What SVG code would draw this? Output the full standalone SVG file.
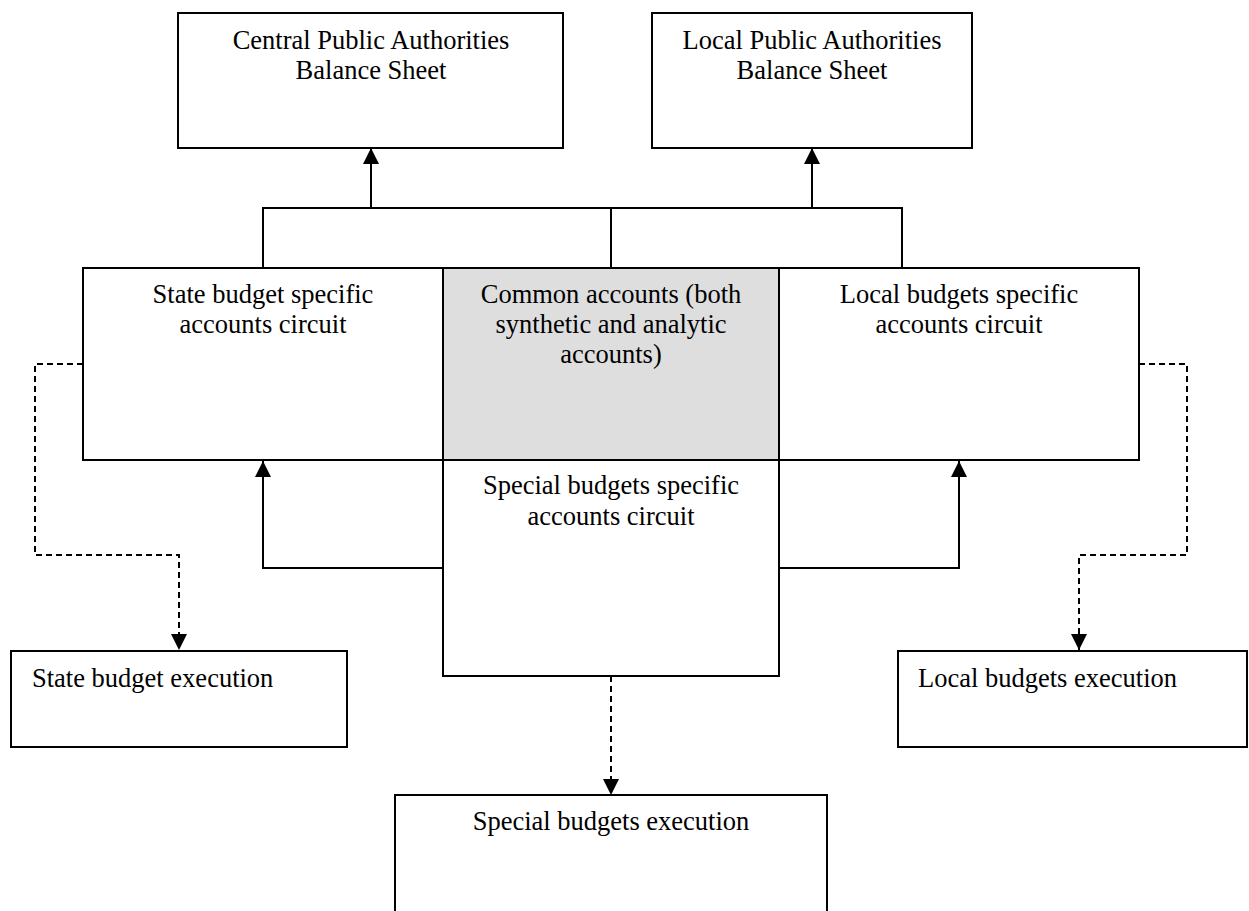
<svg xmlns="http://www.w3.org/2000/svg" width="1249" height="911" viewBox="0 0 1249 911">
<style>
.box{fill:#fff;stroke:#000;stroke-width:2}
.grey{fill:#dedede;stroke:#000;stroke-width:2}
.t{font-family:"Liberation Serif","Times New Roman",serif;font-size:26.5px;fill:#000}
.c{text-anchor:middle}
.ln{fill:none;stroke:#000;stroke-width:2}
.dash{fill:none;stroke:#000;stroke-width:2;stroke-dasharray:6,4}
</style>
<defs>
<marker id="ah" viewBox="0 0 16 16" refX="16" refY="8" markerWidth="16" markerHeight="16" markerUnits="userSpaceOnUse" orient="auto">
<path d="M0,0 L16,8 L0,16 z" fill="#000"/>
</marker>
</defs>
<rect width="1249" height="911" fill="#fff"/>
<g id="connectors">
<polyline class="ln" points="263,268 263,208 611,208 611,268"/>
<line class="ln" x1="371" y1="208" x2="371" y2="148" marker-end="url(#ah)"/>
<polyline class="ln" points="611,208 902,208 902,268"/>
<line class="ln" x1="812" y1="208" x2="812" y2="148" marker-end="url(#ah)"/>
<polyline class="ln" points="443,568 263,568 263,461" marker-end="url(#ah)"/>
<polyline class="ln" points="779,568 959,568 959,461" marker-end="url(#ah)"/>
<polyline class="dash" points="83,364 35,364 35,555 179,555 179,650" marker-end="url(#ah)"/>
<polyline class="dash" points="1139,364 1187,364 1187,555 1079,555 1079,650" marker-end="url(#ah)"/>
<line class="dash" x1="611" y1="676" x2="611" y2="795" marker-end="url(#ah)"/>
</g>
<g id="central">
<rect class="box" x="178" y="13" width="385" height="135"/>
<text class="t c" x="371" y="49">Central Public Authorities</text>
<text class="t c" x="371" y="79">Balance Sheet</text>
</g>
<g id="localbs">
<rect class="box" x="652" y="13" width="320" height="135"/>
<text class="t c" x="812" y="49">Local Public Authorities</text>
<text class="t c" x="812" y="79">Balance Sheet</text>
</g>
<g id="state">
<rect class="box" x="83" y="268" width="360" height="192"/>
<text class="t c" x="263" y="303">State budget specific</text>
<text class="t c" x="263" y="333">accounts circuit</text>
</g>
<g id="common">
<rect class="grey" x="443" y="268" width="336" height="192"/>
<text class="t c" x="611" y="303">Common accounts (both</text>
<text class="t c" x="611" y="333">synthetic and analytic</text>
<text class="t c" x="611" y="363">accounts)</text>
</g>
<g id="local">
<rect class="box" x="779" y="268" width="360" height="192"/>
<text class="t c" x="959" y="303">Local budgets specific</text>
<text class="t c" x="959" y="333">accounts circuit</text>
</g>
<g id="special">
<rect class="box" x="443" y="460" width="336" height="216"/>
<text class="t c" x="611" y="494">Special budgets specific</text>
<text class="t c" x="611" y="525">accounts circuit</text>
</g>
<g id="stateexec">
<rect class="box" x="11" y="651" width="336" height="96"/>
<text class="t" x="32" y="687">State budget execution</text>
</g>
<g id="localexec">
<rect class="box" x="898" y="651" width="349" height="96"/>
<text class="t" x="918" y="687">Local budgets execution</text>
</g>
<g id="specialexec">
<rect class="box" x="395" y="795" width="432" height="120"/>
<text class="t c" x="611" y="830">Special budgets execution</text>
</g>
</svg>
